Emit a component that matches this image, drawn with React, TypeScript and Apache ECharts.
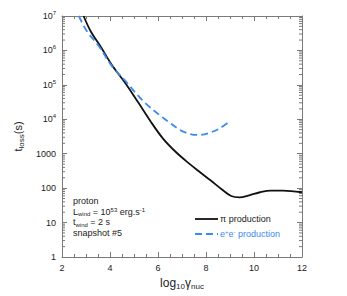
import React, { useEffect, useRef } from "react";
import * as echarts from "echarts";

const pionLogGamma = [2.9, 3.2, 3.6, 4.1, 4.65, 5.2, 5.7, 6.2, 6.7, 7.2, 7.7, 8.2, 8.65, 9.05, 9.4, 9.8, 10.25, 10.7, 11.2, 12.0];
const pionTLoss = [1.0e7, 3.55e6, 1.32e6, 3.6e5, 1.1e5, 2.9e4, 8.5e3, 2.8e3, 1.2e3, 590, 310, 166, 93, 59, 54, 62, 76, 85, 85, 76];

const pairLogGamma = [2.7, 3.04, 3.53, 4.08, 4.71, 5.1, 5.46, 6.08, 6.43, 6.92, 7.3, 7.68, 8.17, 8.58, 9.02];
const pairTLoss = [1.0e7, 3.6e6, 1.35e6, 3.5e5, 1.15e5, 5.5e4, 3.0e4, 1.3e4, 8.5e3, 4.9e3, 3.8e3, 3.5e3, 4.1e3, 5.5e3, 9.1e3];

const yTickLabels: Record<number, string> = {
  1: "1",
  10: "10",
  100: "100",
  1000: "1000",
  10000: "10{sup|4}",
  100000: "10{sup|5}",
  1000000: "10{sup|6}",
  10000000: "10{sup|7}",
};
const decades = [1, 10, 100, 1000, 10000, 100000, 1000000];
const mantissas = [2, 3, 4, 5, 6, 7, 8, 9];
const minorLogTicks: number[] = [];
decades.forEach((d) => mantissas.forEach((m) => minorLogTicks.push(m * d)));

const FONT = "Liberation Sans, Arial, Helvetica, sans-serif";
const AXIS_COLOR = "#7a7a7a";
const BLUE = "#3b8bef";

export default function App() {
  const ref = useRef<HTMLDivElement>(null);
  useEffect(() => {
    if (!ref.current) return;
    const chart = echarts.init(ref.current, undefined, { renderer: "svg" });
    const supRich = {
      sup: { fontSize: 6, fontFamily: FONT, color: "#222", verticalAlign: "top", lineHeight: 12, padding: [0, 0, 4, 0] },
    };
    const option: any = {
      animation: false,
      backgroundColor: "#fff",
      grid: { left: 62, top: 16, right: 45, bottom: 39 },
      xAxis: [
        {
          type: "value",
          min: 2,
          max: 12,
          interval: 2,
          position: "bottom",
          name: "log{sub|10}γ{sub|nuc}",
          nameLocation: "middle",
          nameGap: 15,
          nameTextStyle: {
            fontSize: 12,
            fontFamily: FONT,
            color: "#222",
            rich: {
              sub: { fontSize: 8, fontFamily: FONT, color: "#222", verticalAlign: "bottom", lineHeight: 16, padding: [6, 0, 0, 0] },
            },
          },
          axisLine: { show: true, lineStyle: { color: AXIS_COLOR, width: 1 } },
          axisTick: { show: true, inside: true, length: 5, lineStyle: { color: AXIS_COLOR } },
          minorTick: { show: true, splitNumber: 4, length: 3, lineStyle: { color: AXIS_COLOR } },
          axisLabel: { fontSize: 9, fontFamily: FONT, color: "#222", margin: 6 },
          splitLine: { show: false },
        },
        {
          type: "value",
          min: 2,
          max: 12,
          interval: 2,
          position: "top",
          axisLine: { show: true, lineStyle: { color: AXIS_COLOR, width: 1 } },
          axisTick: { show: true, inside: true, length: 5, lineStyle: { color: AXIS_COLOR } },
          minorTick: { show: true, splitNumber: 4, length: 3, lineStyle: { color: AXIS_COLOR } },
          axisLabel: { show: false },
          splitLine: { show: false },
        },
      ],
      yAxis: [
        {
          type: "log",
          logBase: 10,
          min: 1,
          max: 1e7,
          position: "left",
          name: "t{sub|loss}(s)",
          nameLocation: "middle",
          nameGap: 35,
          nameRotate: 90,
          nameTextStyle: {
            fontSize: 11,
            fontFamily: FONT,
            color: "#222",
            rich: {
              sub: { fontSize: 8, fontFamily: FONT, color: "#222", verticalAlign: "bottom", lineHeight: 15, padding: [5, 0, 0, 0] },
            },
          },
          axisLine: { show: true, lineStyle: { color: AXIS_COLOR, width: 1 } },
          axisTick: { show: true, inside: true, length: 5, lineStyle: { color: AXIS_COLOR } },
          axisLabel: {
            fontSize: 9,
            fontFamily: FONT,
            color: "#222",
            margin: 6,
            formatter: (v: number) => yTickLabels[Math.round(v)] ?? "",
            rich: supRich,
          },
          splitLine: { show: false },
        },
        {
          type: "log",
          logBase: 10,
          min: 1,
          max: 1e7,
          position: "right",
          axisLine: { show: true, lineStyle: { color: AXIS_COLOR, width: 1 } },
          axisTick: { show: true, inside: true, length: 5, lineStyle: { color: AXIS_COLOR } },
          axisLabel: { show: false },
          splitLine: { show: false },
        },
      ],
      series: [
        {
          type: "custom",
          xAxisIndex: 0,
          yAxisIndex: 0,
          silent: true,
          clip: false,
          data: minorLogTicks.map((v) => [2, v]),
          renderItem: (params: any, api: any) => {
            const v = api.value(1);
            const left = api.coord([2, v]);
            const right = api.coord([12, v]);
            return {
              type: "group",
              children: [
                { type: "line", shape: { x1: left[0], y1: left[1], x2: left[0] + 3, y2: left[1] }, style: { stroke: AXIS_COLOR, lineWidth: 1 } },
                { type: "line", shape: { x1: right[0], y1: right[1], x2: right[0] - 3, y2: right[1] }, style: { stroke: AXIS_COLOR, lineWidth: 1 } },
              ],
            };
          },
        },
        {
          name: "π production",
          type: "line",
          xAxisIndex: 0,
          yAxisIndex: 0,
          data: pionLogGamma.map((x, i) => [x, pionTLoss[i]]),
          smooth: 0.35,
          showSymbol: false,
          clip: true,
          lineStyle: { color: "#111", width: 1.8 },
        },
        {
          name: "e+e- production",
          type: "line",
          xAxisIndex: 0,
          yAxisIndex: 0,
          data: pairLogGamma.map((x, i) => [x, pairTLoss[i]]),
          smooth: 0.35,
          showSymbol: false,
          clip: true,
          lineStyle: { color: BLUE, width: 1.8, type: [7, 4] },
        },
      ],
      graphic: [
        {
          type: "text",
          left: 73,
          top: 196,
          style: {
            text: "proton\nL{sub|wind} = 10{sup|53} erg.s{sup|-1}\nt{sub|wind} = 2 s\nsnapshot #5",
            fontSize: 9,
            fontFamily: FONT,
            fill: "#222",
            lineHeight: 10.5,
            rich: {
              sup: { fontSize: 6, fontFamily: FONT, fill: "#222", verticalAlign: "top", lineHeight: 10.5 },
              sub: { fontSize: 6, fontFamily: FONT, fill: "#222", verticalAlign: "bottom", lineHeight: 10.5, padding: [3, 0, 0, 0] },
            },
          },
        },
        { type: "line", shape: { x1: 195, y1: 219, x2: 218, y2: 219 }, style: { stroke: "#111", lineWidth: 1.8 } },
        {
          type: "text",
          left: 220,
          top: 214,
          style: { text: "π production", fontSize: 9, fontFamily: FONT, fill: "#222" },
        },
        { type: "line", shape: { x1: 195, y1: 234, x2: 218, y2: 234 }, style: { stroke: BLUE, lineWidth: 1.8, lineDash: [7, 4] } },
        {
          type: "text",
          left: 220,
          top: 229,
          style: {
            text: "e{sup|+}e{sup|-} production",
            fontSize: 9,
            fontFamily: FONT,
            fill: BLUE,
            rich: {
              sup: { fontSize: 6, fontFamily: FONT, fill: BLUE, verticalAlign: "top", lineHeight: 10 },
            },
          },
        },
      ],
    };
    chart.setOption(option);
    return () => chart.dispose();
  }, []);
  return <div ref={ref} style={{ width: 347, height: 296, position: "absolute", left: 0, top: 0 }} />;
}
